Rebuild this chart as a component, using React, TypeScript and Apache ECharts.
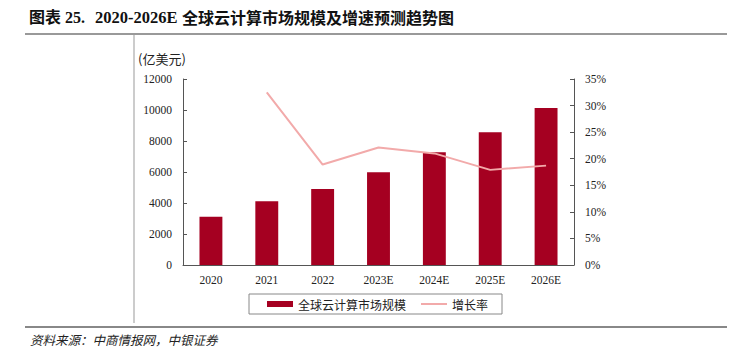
import React, { useEffect, useRef } from "react";
import * as echarts from "echarts";

const categories = ["2020", "2021", "2022", "2023E", "2024E", "2025E", "2026E"];
const marketSize = [3110, 4110, 4900, 5980, 7270, 8560, 10130];
const growthRate = [null, 32.5, 18.9, 22.1, 21.0, 17.9, 18.7];
const leftTicks = [0, 2000, 4000, 6000, 8000, 10000, 12000];
const rightTicks = [0, 5, 10, 15, 20, 25, 30, 35];

const SERIF = "'Liberation Serif', 'Times New Roman', 'Noto Sans CJK SC', serif";
const CJK = "'Noto Sans CJK SC', sans-serif";

export default function App() {
  const ref = useRef<HTMLDivElement>(null);
  useEffect(() => {
    const chart = echarts.init(ref.current!, null, { renderer: "svg" });
    chart.setOption({
      animation: false,
      backgroundColor: "#ffffff",
      grid: { left: 183, right: 165, top: 79, bottom: 88 },
      legend: {
        left: 249,
        top: 294,
        width: 251,
        height: 21,
        orient: "horizontal",
        borderColor: "#888",
        borderWidth: 1,
        borderRadius: 0,
        padding: [4, 14, 4, 18],
        itemGap: 15,
        itemWidth: 26,
        itemHeight: 6,
        textStyle: { fontFamily: CJK, fontSize: 12, color: "#222" },
        data: [
          { name: "全球云计算市场规模", icon: "rect" },
          { name: "增长率", icon: "path://M0,0 L26,0 L26,2 L0,2 Z" },
        ],
      },
      xAxis: {
        type: "category",
        data: categories,
        axisLine: { lineStyle: { color: "#555", width: 1 } },
        axisTick: { inside: true, length: 4, lineStyle: { color: "#555" } },
        axisLabel: { fontFamily: SERIF, fontSize: 11.5, color: "#222", margin: 9 },
      },
      yAxis: [
        {
          type: "value",
          min: leftTicks[0],
          max: leftTicks[leftTicks.length - 1],
          interval: 2000,
          name: "(亿美元)",
          nameLocation: "end",
          nameGap: 14,
          nameTextStyle: { fontFamily: CJK, fontSize: 13, color: "#222", align: "left", padding: [0, 0, 0, -45] },
          axisLine: { show: true, lineStyle: { color: "#555" } },
          axisTick: { show: true, inside: true, length: 4, lineStyle: { color: "#555" } },
          splitLine: { show: false },
          axisLabel: {
            fontFamily: SERIF,
            fontSize: 11.5,
            color: "#222",
            margin: 11,
            formatter: (v: number) => String(v),
          },
        },
        {
          type: "value",
          min: rightTicks[0],
          max: rightTicks[rightTicks.length - 1],
          interval: 5,
          position: "right",
          axisLine: { show: true, lineStyle: { color: "#555" } },
          axisTick: { show: true, inside: true, length: 4, lineStyle: { color: "#555" } },
          splitLine: { show: false },
          axisLabel: { fontFamily: SERIF, fontSize: 11.5, color: "#222", margin: 11, formatter: "{value}%" },
        },
      ],
      series: [
        {
          name: "全球云计算市场规模",
          type: "bar",
          data: marketSize,
          barWidth: "41%",
          itemStyle: { color: "#A50021" },
        },
        {
          name: "增长率",
          type: "line",
          yAxisIndex: 1,
          data: growthRate,
          symbol: "none",
          lineStyle: { color: "#F2AAAA", width: 2 },
          itemStyle: { color: "#F2AAAA" },
        },
      ],
      graphic: [
        {
          type: "text",
          left: 29,
          top: 9,
          style: { text: "图表 25.", font: `bold 16px ${SERIF}`, fill: "#111" },
        },
        {
          type: "text",
          left: 95,
          top: 9,
          style: { text: "2020-2026E", font: `bold 16.5px ${SERIF}`, fill: "#111" },
        },
        {
          type: "text",
          left: 182,
          top: 9,
          style: { text: "全球云计算市场规模及增速预测趋势图", font: `bold 16px ${CJK}`, fill: "#111" },
        },
        { type: "line", shape: { x1: 25, y1: 34, x2: 727, y2: 34 }, style: { stroke: "#777", lineWidth: 1.5 } },
        { type: "line", shape: { x1: 134, y1: 35, x2: 134, y2: 323 }, style: { stroke: "#999", lineWidth: 1 } },
        { type: "line", shape: { x1: 25, y1: 327, x2: 727, y2: 327 }, style: { stroke: "#888", lineWidth: 2 } },
        {
          type: "text",
          left: 30,
          top: 333,
          style: {
            text: "资料来源：中商情报网，中银证券",
            font: `italic 12.5px ${CJK}`,
            fill: "#222",
          },
        },
      ],
    });
    return () => chart.dispose();
  }, []);
  return <div ref={ref} style={{ position: "fixed", left: 0, top: 0, width: 739, height: 353 }} />;
}
